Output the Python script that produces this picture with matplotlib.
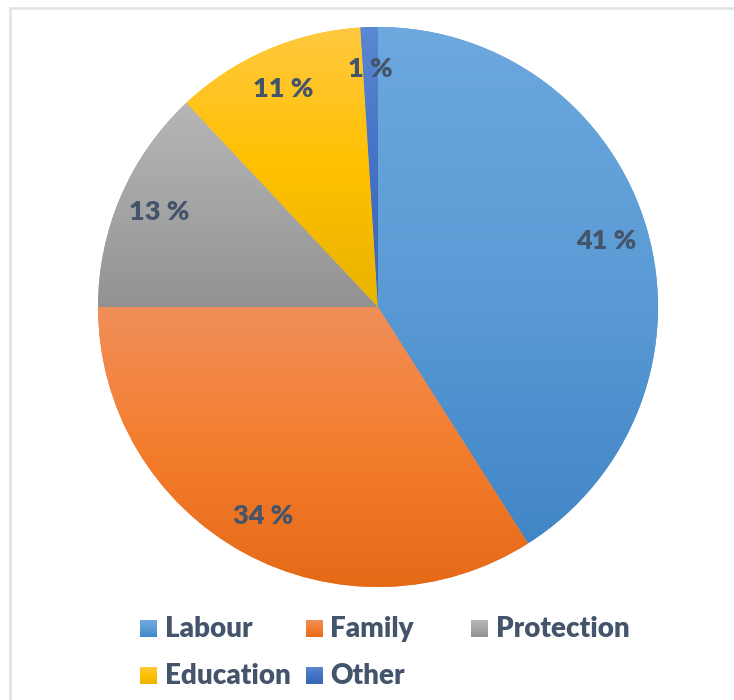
import numpy as np
import matplotlib
matplotlib.use("Agg")
import matplotlib.pyplot as plt
from matplotlib.colors import LinearSegmentedColormap
from matplotlib.patches import Rectangle

plt.rcParams['font.family'] = ['Lato', 'DejaVu Sans']

# 数据
categories = ["Labour", "Family", "Protection", "Education", "Other"]
shares = [41, 34, 13, 11, 1]

# 每块扇形的渐变色：上浅、中间基色、下深
gradients = [
    ("#6DA8DF", "#5B9BD5", "#4186C6"),
    ("#F08F5A", "#F47D2E", "#E56A18"),
    ("#B6B6B6", "#A5A5A5", "#929292"),
    ("#FFC940", "#FFC000", "#E9B300"),
    ("#5A88D2", "#4472C4", "#3A66B6"),
]
text_color = "#44546A"

W, H = 734, 700
fig = plt.figure(figsize=(W / 100, H / 100), dpi=100)
ax = fig.add_axes([0, 0, 1, 1])

cx, cy, r = 378, H - 307, 280
wedges, _, autotexts = ax.pie(
    shares, center=(cx, cy), radius=r, startangle=90, counterclock=False,
    autopct=lambda p: f"{p:.0f} %", pctdistance=0.85,
    wedgeprops=dict(linewidth=0),
)

ramp = np.linspace(0, 1, 256).reshape(-1, 1)
for w, cols in zip(wedges, gradients):
    cmap = LinearSegmentedColormap.from_list("g", list(cols))
    w.set_facecolor(cols[1])
    bb = w.get_path().get_extents()
    im = ax.imshow(ramp, cmap=cmap, extent=(bb.x0, bb.x1, bb.y0, bb.y1),
                   origin="upper", aspect="auto", interpolation="bilinear",
                   zorder=1.5)
    im.set_clip_path(w)

for t in autotexts:
    t.set_color(text_color)
    t.set_fontsize(19.5)
    t.set_fontweight("heavy")
    t.set_zorder(3)

# 图例：三列，按行排列
for i, (name, cols) in enumerate(zip(categories, gradients)):
    row, col = divmod(i, 3)
    x0 = 140 + col * 165.5
    yc = H - (629 + row * 47)
    cmap = LinearSegmentedColormap.from_list("g", list(cols))
    ax.imshow(ramp, cmap=cmap, extent=(x0, x0 + 17, yc - 8.5, yc + 8.5),
              origin="upper", aspect="auto", zorder=2)
    ax.text(x0 + 25, yc, name, fontsize=20, fontweight="heavy",
            color=text_color, va="center", ha="left")

ax.set_xlim(0, W)
ax.set_ylim(0, H)
ax.set_aspect("equal")
ax.axis("off")

# 外框（只露出左边和上边）
fig.patches.append(Rectangle((10 / W, -0.1), 1.2, (H - 8) / H + 0.1,
                             transform=fig.transFigure, fill=False,
                             edgecolor="#DDE2E9", linewidth=1.8))

fig.savefig("out.png", dpi=100)
